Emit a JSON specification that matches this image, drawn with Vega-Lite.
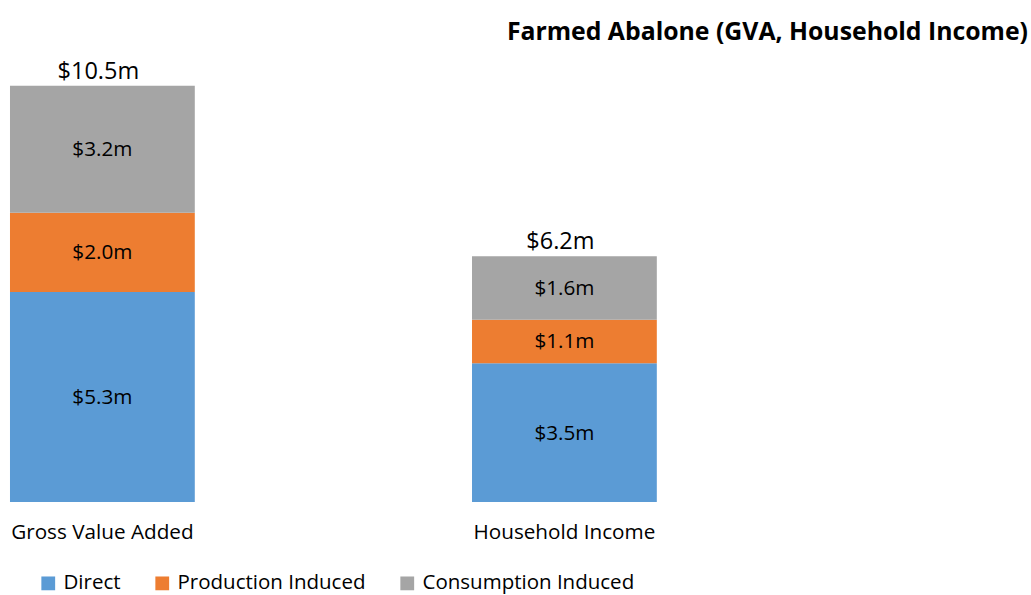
{
  "$schema": "https://vega.github.io/schema/vega-lite/v6.json",
  "autosize": "none",
  "width": 1028,
  "height": 436,
  "padding": {"left": 0, "top": 66, "right": 3, "bottom": 93},
  "background": "white",
  "config": {"view": {"stroke": null}, "font": "Open Sans"},
  "title": {
    "text": "Farmed Abalone (GVA, Household Income)",
    "anchor": "end",
    "fontSize": 24.8,
    "fontWeight": "bold",
    "font": "Open Sans",
    "color": "#000000",
    "offset": 15
  },
  "data": {
    "values": [
      {"measure": "Gross Value Added", "type": "Direct", "order": 1, "value": 5.3},
      {"measure": "Gross Value Added", "type": "Production Induced", "order": 2, "value": 2.0},
      {"measure": "Gross Value Added", "type": "Consumption Induced", "order": 3, "value": 3.2},
      {"measure": "Household Income", "type": "Direct", "order": 1, "value": 3.5},
      {"measure": "Household Income", "type": "Production Induced", "order": 2, "value": 1.1},
      {"measure": "Household Income", "type": "Consumption Induced", "order": 3, "value": 1.6}
    ]
  },
  "encoding": {
    "x": {
      "field": "measure",
      "type": "nominal",
      "sort": ["Gross Value Added", "Household Income"],
      "scale": {"paddingInner": 0.6, "paddingOuter": 0.4125, "align": 0.0262},
      "axis": {
        "title": null,
        "labelAngle": 0,
        "ticks": false,
        "domain": false,
        "labelFontSize": 20.7,
        "labelLimit": 0,
        "labelColor": "#000000",
        "labelPadding": 20,
        "labelFont": "Open Sans"
      }
    }
  },
  "layer": [
    {
      "mark": {"type": "bar"},
      "encoding": {
        "y": {
          "field": "value",
          "type": "quantitative",
          "stack": "zero",
          "scale": {"domain": [0, 11], "nice": false},
          "axis": null
        },
        "color": {
          "field": "type",
          "type": "nominal",
          "scale": {
            "domain": ["Direct", "Production Induced", "Consumption Induced"],
            "range": ["#5B9BD5", "#ED7D31", "#A5A5A5"]
          },
          "legend": {
            "title": null,
            "orient": "none",
            "direction": "horizontal",
            "legendX": 38,
            "legendY": 507,
            "symbolType": "square",
            "symbolSize": 190,
            "symbolStrokeWidth": 0,
            "labelFontSize": 20.5,
            "labelLimit": 0,
            "labelFont": "Open Sans",
            "labelColor": "#000000",
            "labelOffset": 5,
            "columnPadding": 31
          }
        },
        "order": {"field": "order", "type": "quantitative"}
      }
    },
    {
      "transform": [
        {"stack": "value", "groupby": ["measure"], "sort": [{"field": "order"}], "as": ["v0", "v1"]},
        {"calculate": "(datum.v0 + datum.v1) / 2", "as": "mid"},
        {"calculate": "'$' + format(datum.value, '.1f') + 'm'", "as": "label"}
      ],
      "mark": {"type": "text", "fontSize": 20.7, "font": "Open Sans", "color": "#000000", "baseline": "middle", "dy": 1},
      "encoding": {
        "y": {"field": "mid", "type": "quantitative"},
        "text": {"field": "label"}
      }
    },
    {
      "transform": [
        {"aggregate": [{"op": "sum", "field": "value", "as": "total"}], "groupby": ["measure"]},
        {"calculate": "'$' + format(datum.total, '.1f') + 'm'", "as": "label"}
      ],
      "mark": {"type": "text", "fontSize": 23.5, "font": "Open Sans", "color": "#000000", "baseline": "bottom", "dy": -2, "dx": -4},
      "encoding": {
        "y": {"field": "total", "type": "quantitative"},
        "text": {"field": "label"}
      }
    }
  ]
}
